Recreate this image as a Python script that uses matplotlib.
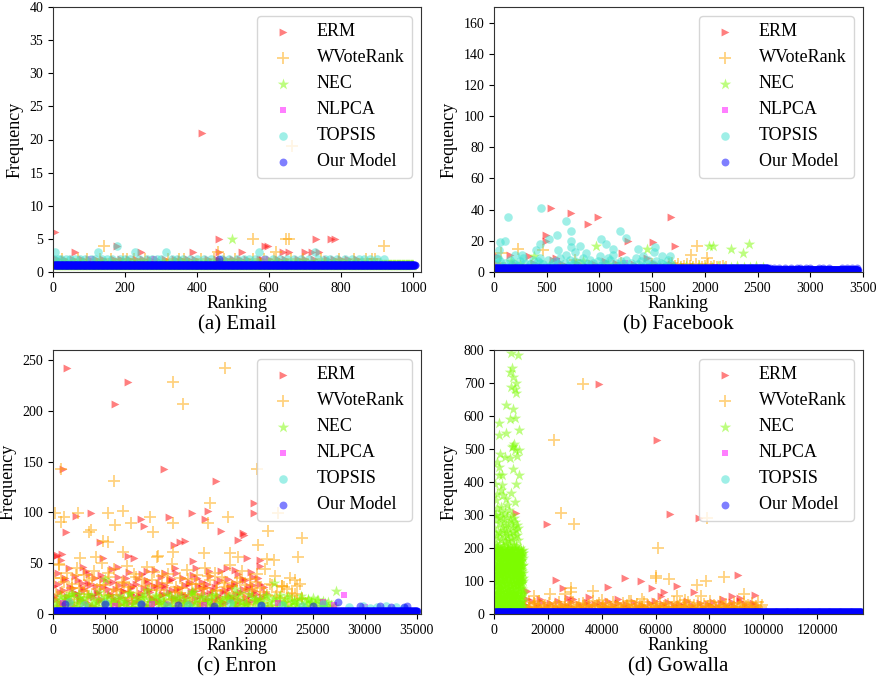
import numpy as np
import matplotlib
matplotlib.use("Agg")
import matplotlib.pyplot as plt

plt.rcParams['font.family'] = ['Liberation Serif', 'DejaVu Serif']

SERIES = ["ERM", "WVoteRank", "NEC", "NLPCA", "TOPSIS", "Our Model"]
PANEL_TITLES = ["(a) Email", "(b) Facebook", "(c) Enron", "(d) Gowalla"]

# ---------------- (a) Email ----------------
EMAIL_N = 1005
EMAIL_ERM = [(5, 6), (415, 21), (462, 5), (590, 4), (596, 4), (730, 5), (772, 5), (782, 5),
             (62, 3), (178, 4), (245, 3), (390, 3), (462, 3), (525, 3), (640, 3), (655, 3),
             (700, 3), (718, 3), (740, 3)]
EMAIL_ERM_AT2 = [10, 30, 55, 80, 100, 120, 140, 170, 190, 210, 230, 250, 270, 285, 310, 340,
                 355, 375, 395, 430, 455, 480, 500, 520, 540, 575, 580, 600, 625, 645, 680,
                 700, 725, 760, 780, 800, 820, 845]
EMAIL_WVR = [(142, 4), (458, 3), (555, 5), (648, 5), (655, 5), (620, 3), (920, 4), (665, 19)]
EMAIL_WVR_AT2 = [25, 70, 95, 130, 160, 195, 205, 225, 255, 320, 350, 365, 410, 448, 475, 505,
                 555, 585, 615, 660, 695, 745, 795, 835, 870, 885, 895]
EMAIL_NEC = [(497, 5)]
EMAIL_NLPCA = [(105, 2), (280, 2), (590, 2)]
EMAIL_TOPSIS = [(5, 3), (125, 3), (228, 3), (313, 3), (572, 3), (728, 3), (178, 4)]
EMAIL_TOPSIS_AT2 = [3, 15, 22, 35, 48, 60, 75, 90, 105, 118, 135, 150, 165, 185, 200, 215, 240,
                    260, 275, 290, 300, 330, 345, 360, 380, 400, 420, 440, 470, 490, 510, 530,
                    545, 560, 590, 610, 630, 650, 670, 690, 710, 735, 755, 770, 790, 810, 830,
                    850, 865, 880, 900, 918]
EMAIL_OUR = [(460, 2)]

# ---------------- (b) Facebook ----------------
FB_N = 3450
FB_ERM = [(540, 41), (735, 38), (887, 31), (982, 35), (1676, 35), (491, 24), (491, 20),
          (1505, 19), (1717, 17), (1273, 20), (1210, 12), (155, 11), (333, 10), (28, 10),
          (592, 9), (1448, 9), (1052, 7), (30, 6), (100, 4), (200, 5), (280, 3), (380, 6),
          (460, 4), (560, 8), (650, 5), (700, 3), (790, 6), (880, 4), (960, 5), (1080, 3),
          (1160, 6), (1250, 4), (1330, 5), (1420, 3), (1520, 6), (1600, 4), (1680, 5), (1720, 4)]
FB_WVR = [(228, 15), (466, 14), (70, 12), (1866, 11), (1929, 17), (2018, 9), (767, 8),
          (60, 6), (350, 4), (620, 5), (900, 4), (1200, 6), (1500, 5)]
FB_WVR_LOW = [5, 6, 4, 5, 3, 4, 5, 4, 3, 5, 4, 3, 4, 5, 3, 4, 3, 3, 4, 3]          # ranks 1660-2200
FB_NEC = [(966, 17), (1448, 15), (2043, 17), (2081, 17), (2246, 15), (2366, 12), (2414, 18),
          (377, 10), (165, 7), (846, 7), (250, 5), (520, 4), (780, 6), (1080, 5), (1380, 4)]
FB_NEC_LOW = [4, 3, 4, 3, 4, 3, 3, 4, 3, 3, 4, 3, 3, 4, 3]                         # ranks 1700-2550
FB_NLPCA = [(600, 7), (1240, 6), (2100, 3)]
FB_TOPSIS = [(450, 41), (133, 35), (687, 33), (735, 26), (1194, 26), (599, 24), (1248, 22),
             (1014, 21), (520, 21), (735, 20), (101, 20), (54, 19), (440, 18), (820, 17),
             (1067, 18), (1131, 15), (1368, 15), (1527, 16), (1517, 13), (47, 14), (608, 14),
             (396, 14), (735, 16), (263, 11), (767, 13), (877, 12), (1004, 10), (687, 11),
             (1131, 11), (1416, 10), (1590, 10), (1669, 10), (28, 9), (196, 11), (434, 9)]
FB_TOPSIS_LOW = [5, 9, 7, 4, 6, 3, 8, 6, 5, 4, 7, 9, 6, 3, 5, 8, 4, 7, 6, 5, 3, 8, 4, 6,
                 7, 5, 9, 3, 6, 4, 8, 5, 7, 3, 6, 9, 4, 5, 8, 6, 3, 7, 4, 6, 5, 9, 8, 3,
                 6, 4, 7, 5, 8, 3, 6, 4, 9, 5, 7, 3, 6, 8, 4, 5, 7, 3, 6, 5, 4, 8, 5, 3]  # ranks 10-1700
FB_OUR_SPARSE = [2620, 2660, 2700, 2760, 2820, 2870, 2900, 2960, 3000, 3080, 3120, 3180,
                 3300, 3350, 3400, 3440]

# ---------------- (c) Enron ----------------
ENRON_N = 35050
ENRON_ERM = [(1300, 242), (7200, 228), (6000, 207), (1000, 143), (10700, 143), (15670, 131),
             (19330, 109), (19330, 99), (3690, 99), (2180, 97), (8480, 94), (14580, 94),
             (13360, 99), (14900, 101), (11180, 96), (8730, 87), (1285, 81), (16190, 82),
             (18270, 80), (18400, 78), (17820, 73), (12200, 71), (11600, 68), (4560, 71),
             (257, 57), (900, 59), (800, 53), (7225, 57), (7800, 55), (4800, 55), (6230, 46),
             (2890, 46), (13490, 52), (18630, 55), (19900, 53), (19900, 47), (19040, 41),
             (17500, 43), (16700, 45), (15030, 42), (3470, 39), (9000, 42), (10730, 40),
             (13800, 45), (11700, 45), (19750, 35), (355, 58), (12690, 72)]
ENRON_ERM_LOW = [28, 15, 40, 22, 10, 33, 18, 45, 12, 26, 37, 20, 14, 31, 24, 42, 9, 29, 17, 35,
                 21, 13, 38, 27, 11, 32, 19, 44, 16, 25, 36, 10, 23, 30, 14, 41, 20, 28, 12, 34,
                 18, 39, 26, 9, 31, 22, 15, 43, 27, 13, 36, 20, 29, 11, 33, 24, 17, 40, 14, 26,
                 35, 19, 12, 30, 23, 38, 16, 28, 10, 32, 21, 27, 15, 37, 24, 13, 31, 18, 42, 22,
                 11, 34, 26, 16, 29, 20, 39, 14, 25, 33, 12, 28, 19, 36, 23, 15, 30, 17, 27, 21]  # ranks 100-20500
ENRON_ERM_LOW2 = [18, 30, 11, 24, 35, 14, 27, 9, 21, 33, 16, 26, 12, 31, 19, 8, 28, 22, 15, 34,
                  10, 25, 20, 32, 13, 29, 17, 23, 35, 11, 26, 18, 30, 14, 21, 9, 33, 24, 16, 28,
                  12, 31, 19, 27, 10, 22, 34, 15, 25, 20, 13, 29, 17, 32, 11, 23, 35, 18, 26, 14,
                  30, 21, 9, 27, 16, 33, 12, 24, 19, 28, 15, 31, 10, 22, 34, 17, 25, 13, 29, 20]  # ranks 200-19500
ENRON_WVR = [(16540, 242), (11560, 228), (12460, 207), (740, 143), (19590, 143), (5840, 131),
             (190, 99), (800, 91), (1060, 96), (2400, 99), (5300, 99), (6740, 101), (9310, 96),
             (15090, 109), (14930, 90), (16860, 96), (5940, 88), (7480, 90), (11500, 90),
             (9630, 81), (3470, 81), (3690, 83), (20710, 82), (23920, 75), (19750, 68),
             (5300, 71), (4820, 72), (580, 49), (14520, 60), (17020, 60), (6740, 61),
             (11560, 61), (17820, 56), (23600, 56), (21260, 53), (20550, 54), (10120, 57),
             (2570, 55), (21650, 99), (10000, 56), (4100, 56), (800, 35), (23300, 33),
             (23500, 28), (22000, 28), (24000, 16)]
ENRON_WVR_LOW = [35, 12, 48, 22, 8, 40, 18, 30, 15, 45, 26, 10, 38, 20, 33, 6, 42, 25, 14, 50,
                 29, 11, 36, 19, 44, 23, 9, 32, 16, 47, 27, 13, 39, 21, 7, 34, 17, 46, 24, 12,
                 41, 28, 10, 37, 19, 31, 14, 49, 22, 8, 35, 26, 16, 43, 11, 30, 20, 38, 13, 25,
                 45, 9, 33, 18, 40, 24, 12, 36, 27, 15, 48, 21, 7, 32, 17, 42, 29, 10, 34, 23,
                 14, 39, 26, 11, 44, 19, 30, 8, 37, 22, 16, 28, 12, 25, 35, 18, 20, 14, 30, 15]  # ranks 100-24000
ENRON_WVR_LOW2 = [20, 8, 32, 14, 26, 38, 11, 23, 17, 35, 6, 29, 19, 40, 13, 25, 9, 31, 22, 16,
                  36, 12, 28, 7, 33, 18, 24, 10, 39, 15, 27, 21, 5, 34, 19, 30, 12, 26, 37, 14,
                  23, 8, 31, 17, 28, 11, 35, 20, 9, 25, 32, 15, 22, 6, 29, 18, 13, 27, 10, 21]  # ranks 300-23000
ENRON_NEC = [(21260, 31), (27230, 23), (4980, 34), (17500, 25), (13500, 22), (9000, 24),
             (2500, 20), (24500, 14), (26000, 13), (25000, 16), (23000, 12), (1500, 18)]
ENRON_NEC_LOW = [12, 6, 18, 9, 15, 4, 20, 11, 7, 16, 13, 5, 19, 10, 14, 8, 22, 6, 17, 12,
                 9, 15, 5, 18, 11, 13, 7, 21, 10, 16, 6, 14, 19, 8, 12, 4, 17, 11, 15, 9,
                 20, 7, 13, 16, 5, 18, 10, 14, 8, 22, 12, 6, 17, 11, 9, 15, 19, 7, 13, 10,
                 16, 5, 18, 12, 8, 14, 21, 9, 11, 6, 17, 13, 10, 15, 7, 19, 12, 5, 16, 9,
                 14, 11, 8, 18, 6, 13, 10, 15, 7, 12, 9, 11, 6, 14, 8, 10, 7, 12, 9, 8]  # ranks 100-27000
ENRON_NEC_LOW2 = [8, 14, 5, 17, 11, 20, 7, 13, 16, 9, 19, 6, 12, 15, 10, 18, 5, 14, 8, 16,
                  11, 20, 7, 13, 9, 17, 6, 15, 12, 19, 10, 14, 5, 18, 8, 16, 11, 13, 7, 20,
                  9, 15, 6, 17, 12, 10, 19, 8, 14, 5, 16, 11, 18, 7, 13, 9, 20, 6, 15, 12,
                  10, 17, 8, 14, 5, 19, 11, 16, 7, 13, 9, 18, 6, 15, 12, 10, 14, 8, 11, 7]  # ranks 300-26500
ENRON_NLPCA = [(28030, 19), (21650, 11), (1000, 11), (6000, 8), (14500, 9), (26000, 12),
               (27000, 9), (30000, 7), (9500, 10)]
ENRON_TOPSIS = [(28500, 7), (29800, 8), (30500, 6), (31200, 7), (32000, 8), (33000, 7),
                (33800, 6), (1500, 12), (5000, 11), (8500, 10), (13000, 9), (17000, 11),
                (22000, 9), (26000, 10), (20000, 8), (11000, 9), (24000, 8), (3000, 9)]
ENRON_OUR = [(4980, 10), (8500, 10), (1200, 10), (27390, 12), (34100, 8), (20000, 9),
             (29500, 8), (31500, 8), (15500, 8), (12000, 9), (25000, 8), (32500, 7), (33800, 7)]

# ---------------- (d) Gowalla ----------------
GOW_N = 136500
GOW_ERM = [(38960, 696), (60420, 527), (65380, 303), (76180, 291), (19850, 272), (8310, 305),
           (22950, 103), (48760, 110), (54590, 101), (58810, 78), (67870, 86), (42180, 83),
           (90570, 118), (97020, 58), (88460, 55), (12280, 71), (12280, 44), (35110, 52),
           (45900, 44), (63150, 66), (74320, 68), (25680, 78), (17000, 46), (27500, 50),
           (29500, 45), (62000, 55), (85000, 45), (91500, 48)]
GOW_ERM_LOW = [30, 15, 22, 40, 10, 27, 18, 35, 12, 25, 33, 8, 20, 38, 14, 28, 11, 24, 36, 17,
               9, 31, 21, 13, 37, 26, 16, 29, 10, 34, 19, 23, 39, 12, 27, 15, 32, 8, 22, 30,
               18, 11, 35, 25, 14, 28, 20, 9, 33, 16, 38, 24, 12, 29, 21, 36, 10, 26, 17, 31,
               13, 23, 40, 15, 27, 19, 8, 34, 22, 11, 30, 25, 37, 14, 20, 32, 9, 28, 18, 35,
               24, 12, 39, 16, 29, 21, 10, 33, 26, 15]  # ranks 11000-98000
GOW_WVR = [(32880, 696), (22330, 527), (79030, 291), (24690, 305), (29650, 272), (60790, 199),
           (60170, 116), (60170, 110), (65010, 105), (78660, 101), (85240, 111), (75310, 88),
           (92930, 61), (28410, 79), (28410, 68), (36850, 69), (14890, 55), (20720, 60),
           (76800, 55), (68110, 55), (14770, 32), (26300, 62), (40000, 42), (55000, 45),
           (50000, 38), (71000, 43)]
GOW_WVR_LOW = [25, 12, 35, 8, 20, 30, 15, 38, 10, 22, 28, 6, 33, 18, 14, 26, 9, 36, 21, 11,
               31, 16, 7, 24, 37, 13, 19, 29, 10, 34, 23, 8, 27, 15, 39, 12, 20, 32, 6, 25,
               17, 30, 11, 22, 35, 9, 28, 14, 19, 33, 7, 26, 16, 38, 12, 21, 30, 10, 24, 15,
               36, 8, 27, 18, 13, 31, 22, 9, 34, 17, 25, 11, 29, 6, 20, 37, 14, 23, 32, 10,
               26, 16, 35, 8, 19, 28, 12, 33, 21, 7, 30, 15, 24, 38, 11, 27, 18, 9, 36, 13,
               22, 31, 10, 25, 17, 34, 8, 20, 29, 14, 37, 12, 26, 19, 32, 6, 23, 35, 11, 28]  # ranks 11500-99500
GOW_WVR_LOW2 = [10, 18, 6, 14, 22, 8, 16, 12, 20, 5, 15, 24, 9, 17, 11, 21, 7, 13, 19, 25,
                8, 16, 12, 23, 6, 14, 20, 10, 18, 5, 22, 13, 9, 17, 24, 11, 7, 19, 15, 21,
                12, 6, 18, 10, 23, 14, 8, 20, 16, 5, 13, 22, 9, 17, 11, 25, 7, 15, 19, 12,
                6, 21, 14, 10, 18, 8, 24, 13, 16, 5, 20, 11, 17, 9, 23, 15, 7, 19, 12, 22]  # ranks 12000-99000
GOW_NEC = [(6200, 790), (8930, 785), (6820, 745), (5830, 734), (7070, 717), (7690, 681),
           (8060, 669), (6200, 687), (4590, 632), (1860, 580), (1860, 542), (4340, 547),
           (5830, 592), (7690, 593), (9300, 557), (6950, 509), (9300, 497), (7690, 497),
           (2360, 484), (3970, 477), (5830, 472), (1860, 444), (1860, 421), (7070, 438),
           (9300, 421), (8060, 394), (2480, 376), (6200, 368), (4340, 347), (870, 345),
           (7500, 515), (6500, 505), (8500, 480), (3000, 420), (1200, 365), (4800, 330),
           (2500, 325), (7800, 340), (3500, 360), (500, 395), (1000, 460), (7000, 620),
           (8200, 700), (900, 300), (2900, 390)]
GOW_NEC_BLOCK = [120, 45, 180, 15, 95, 160, 30, 140, 70, 195, 55, 110, 10, 175, 85, 130, 40, 190, 65, 150,
                 25, 170, 100, 60, 185, 20, 125, 80, 155, 35, 200, 75, 115, 50, 165, 5, 135, 90, 145, 40,
                 185, 65, 105, 25, 160, 120, 45, 195, 80, 140, 15, 175, 55, 100, 130, 35, 190, 70, 150, 10,
                 95, 155, 30, 180, 60, 125, 85, 165, 20, 110, 200, 50, 145, 75, 170, 40, 135, 5, 115, 185,
                 55, 130, 175, 15, 100, 190, 65, 145, 35, 160, 90, 120, 25, 180, 70, 195, 45, 105, 150, 30,
                 170, 80, 140, 10, 185, 60, 115, 160, 40, 200, 95, 135, 20, 175, 55, 125, 85, 190, 15, 150,
                 110, 35, 165, 75, 195, 50, 130, 100, 180, 25, 145, 65, 185, 45, 120, 155, 5, 170, 90, 140,
                 60, 175, 20, 150, 105, 190, 40, 125, 85, 160, 30, 200, 70, 115, 135, 15, 180, 55, 95, 165,
                 145, 45, 185, 90, 130, 10, 170, 65, 155, 110, 35, 195, 80, 140, 25, 160, 100, 50, 175, 120,
                 30, 150, 95, 180, 55, 135, 190, 20, 115, 165, 75, 145, 40, 185, 105, 60, 170, 125, 15, 100]  # ranks 50-10800
GOW_NEC_BLOCK2 = [70, 150, 20, 185, 105, 40, 165, 130, 10, 195, 85, 115, 55, 175, 30, 140, 95, 200, 60, 125,
                  180, 15, 110, 75, 155, 45, 190, 100, 25, 135, 170, 65, 145, 5, 120, 185, 50, 160, 90, 35,
                  130, 195, 80, 20, 175, 115, 60, 150, 40, 105, 165, 10, 140, 70, 190, 30, 125, 85, 180, 55,
                  15, 145, 100, 200, 45, 160, 75, 120, 25, 170, 135, 65, 185, 95, 5, 155, 110, 50, 175, 35,
                  90, 175, 40, 130, 195, 20, 150, 60, 115, 185, 80, 10, 165, 125, 45, 200, 70, 140, 30, 105,
                  160, 55, 120, 15, 180, 95, 135, 35, 190, 65, 145, 100, 25, 170, 85, 155, 5, 130, 75, 195,
                  50, 110, 185, 40, 165, 20, 140, 90, 175, 60, 125, 10, 150, 115, 35, 180, 80, 200, 55, 135,
                  100, 30, 160, 70, 190, 45, 120, 155, 15, 170, 95, 130, 65, 185, 25, 145, 110, 50, 175, 85,
                  140, 195, 60, 105, 20, 165, 75, 150, 35, 125, 180, 10, 135, 90, 155, 45, 200, 115, 30, 170,
                  80, 125, 5, 160, 55, 190, 100, 40, 145, 15, 175, 65, 130, 95, 185, 25, 150, 70, 110, 195]  # ranks 80-10900
GOW_NEC_MID = [260, 215, 300, 240, 285, 205, 320, 250, 230, 275, 210, 295, 245, 310, 225, 265, 290,
               205, 255, 235, 280, 220, 305, 250, 270, 215, 295, 240, 260, 225, 315, 210, 285, 245,
               275, 230, 300, 220, 265, 250, 210, 290, 235, 280, 255, 205, 270, 240, 225, 260]  # ranks 100-9000
GOW_NLPCA = [(3000, 6), (40000, 5)]
GOW_TOPSIS = [(2000, 5), (50000, 4)]

# ---------------- styles ----------------
STYLE = {
    "ERM": dict(marker=">", color="red", s=32, linewidths=0),
    "WVoteRank": dict(marker="+", color="orange", s=65, linewidths=1.3),
    "NEC": dict(marker="*", color="lawngreen", s=75, linewidths=0),
    "NLPCA": dict(marker="s", color="magenta", s=24, linewidths=0),
    "TOPSIS": dict(marker="o", color="turquoise", s=38, linewidths=0),
    "Our Model": dict(marker="o", color="blue", s=32, linewidths=0),
}


def pts(pairs):
    a = np.array(pairs, dtype=float).reshape(-1, 2)
    return a[:, 0], a[:, 1]


def at(ranks, value):
    r = np.asarray(ranks, dtype=float)
    return r, np.full(r.shape, float(value))


def spread(freqs, start, stop):
    f = np.asarray(freqs, dtype=float)
    return np.linspace(start, stop, len(f)), f


panels = [
    {
        "ERM": [pts(EMAIL_ERM), at(EMAIL_ERM_AT2, 2)],
        "WVoteRank": [pts(EMAIL_WVR), at(EMAIL_WVR_AT2, 2)],
        "NEC": [at(np.arange(1, 1001), 1), pts(EMAIL_NEC)],
        "NLPCA": [pts(EMAIL_NLPCA)],
        "TOPSIS": [pts(EMAIL_TOPSIS), at(EMAIL_TOPSIS_AT2, 2)],
        "Our Model": [at(np.arange(1, EMAIL_N + 1), 1), pts(EMAIL_OUR)],
    },
    {
        "ERM": [pts(FB_ERM)],
        "WVoteRank": [pts(FB_WVR), spread(FB_WVR_LOW, 1660, 2200)],
        "NEC": [pts(FB_NEC), spread(FB_NEC_LOW, 1700, 2550)],
        "NLPCA": [pts(FB_NLPCA)],
        "TOPSIS": [pts(FB_TOPSIS), spread(FB_TOPSIS_LOW, 10, 1700)],
        "Our Model": [at(np.arange(1, FB_N + 1, 2), 1), at(np.arange(1, 2601, 4), 2.5),
                      at(FB_OUR_SPARSE, 2.5)],
    },
    {
        "ERM": [pts(ENRON_ERM), spread(ENRON_ERM_LOW, 100, 20500),
                spread(ENRON_ERM_LOW2, 200, 19500)],
        "WVoteRank": [pts(ENRON_WVR), spread(ENRON_WVR_LOW, 100, 24000),
                      spread(ENRON_WVR_LOW2, 300, 23000)],
        "NEC": [pts(ENRON_NEC), spread(ENRON_NEC_LOW, 100, 27000),
                spread(ENRON_NEC_LOW2, 300, 26500)],
        "NLPCA": [pts(ENRON_NLPCA)],
        "TOPSIS": [pts(ENRON_TOPSIS)],
        "Our Model": [at(np.arange(1, ENRON_N, 40), 3), pts(ENRON_OUR)],
    },
    {
        "ERM": [pts(GOW_ERM), spread(GOW_ERM_LOW, 11000, 98000)],
        "WVoteRank": [pts(GOW_WVR), spread(GOW_WVR_LOW, 11500, 99500),
                      spread(GOW_WVR_LOW2, 12000, 99000)],
        "NEC": [pts(GOW_NEC), spread(GOW_NEC_MID, 100, 9000), spread(GOW_NEC_BLOCK, 50, 10800),
                spread(GOW_NEC_BLOCK2, 80, 10900)],
        "NLPCA": [pts(GOW_NLPCA)],
        "TOPSIS": [pts(GOW_TOPSIS)],
        "Our Model": [at(np.arange(1, GOW_N, 120), 5)],
    },
]

AXES = [
    dict(rect=[53, 7, 421, 272], xlim=(0, 1022), ylim=(0, 40),
         xticks=np.arange(0, 1001, 200), yticks=np.arange(0, 41, 5)),
    dict(rect=[494, 7, 863, 272], xlim=(0, 3500), ylim=(0, 170),
         xticks=np.arange(0, 3501, 500), yticks=np.arange(0, 161, 20)),
    dict(rect=[53, 350, 421, 614], xlim=(0, 35400), ylim=(0, 260),
         xticks=np.arange(0, 35001, 5000), yticks=np.arange(0, 251, 50)),
    dict(rect=[494, 350, 863, 614], xlim=(0, 137000), ylim=(0, 800),
         xticks=np.arange(0, 120001, 20000), yticks=np.arange(0, 801, 100)),
]
SUBTITLE_Y = [325, 325, 667, 667]

W, H = 880, 683
fig = plt.figure(figsize=(W / 100, H / 100), dpi=100)

for i, (data, cfg) in enumerate(zip(panels, AXES)):
    l, t, r, b = cfg["rect"]
    ax = fig.add_axes([l / W, 1 - b / H, (r - l) / W, (b - t) / H])
    for name in SERIES:
        xs = np.concatenate([p[0] for p in data[name]])
        ys = np.concatenate([p[1] for p in data[name]])
        ax.scatter(xs, ys, alpha=0.5, label=name, clip_on=True, **STYLE[name])
    ax.set_xlim(*cfg["xlim"])
    ax.set_ylim(*cfg["ylim"])
    ax.set_xticks(cfg["xticks"])
    ax.set_yticks(cfg["yticks"])
    ax.tick_params(labelsize=10)
    ax.set_xlabel("Ranking", fontsize=13, labelpad=0)
    ax.set_ylabel("Frequency", fontsize=13)
    for sp in ax.spines.values():
        sp.set_color("#333333")
    ax.legend(loc="upper right", fontsize=13, labelspacing=0.5, borderaxespad=0.5,
              handlelength=2.0, handletextpad=0.9)
    fig.text((l + r) / 2 / W, 1 - SUBTITLE_Y[i] / H, PANEL_TITLES[i],
             ha="center", va="center", fontsize=15)

fig.savefig("out.png", dpi=100)
